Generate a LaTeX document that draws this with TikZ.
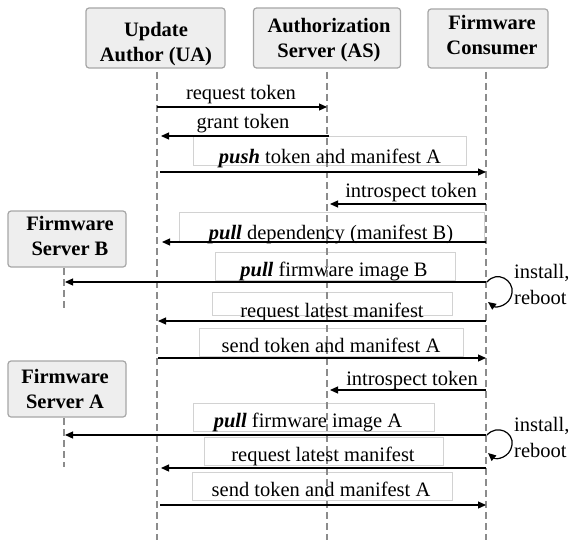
\documentclass[tikz,border=0pt]{standalone}
\usepackage{fontspec}
\setmainfont{Liberation Serif}
\usetikzlibrary{arrows.meta}
\definecolor{hdrfill}{HTML}{EEEEEE}
\definecolor{hdrdraw}{HTML}{A6A6A6}
\definecolor{lifeg}{HTML}{8C8C8C}
\definecolor{boxg}{HTML}{D2D2D2}
\begin{document}
\begin{tikzpicture}[x=1pt,y=-1pt,
  hdr/.style={draw=hdrdraw, fill=hdrfill, line width=1.2pt, rounded corners=3pt, inner sep=0pt},
  htxt/.style={font=\bfseries\fontsize{20.5}{25}\selectfont, align=center, inner sep=0pt, anchor=north},
  life/.style={draw=lifeg, line width=1.6pt, dash pattern=on 7pt off 4pt},
  msg/.style={draw=black, line width=1.2pt, -{Triangle[length=8pt,width=7pt]}},
  mtxt/.style={font=\fontsize{20.5}{26}\selectfont, inner sep=0pt, anchor=base},
  side/.style={font=\fontsize{20.5}{26}\selectfont, inner sep=0pt, anchor=north west, align=left},
  lbox/.style={draw=boxg, line width=0.8pt, inner sep=0pt},
]
\useasboundingbox (0,0) rectangle (569,540);

% header boxes
\node[hdr, minimum width=139pt, minimum height=60pt] (ua) at (155.5,38) {};
\node[hdr, minimum width=147pt, minimum height=60pt] (as) at (327,38) {};
\node[hdr, minimum width=120pt, minimum height=59pt] (fc) at (488,38.5) {};
\node[hdr, minimum width=118pt, minimum height=56pt] (fsb) at (67,239) {};
\node[hdr, minimum width=118pt, minimum height=56pt] (fsa) at (67,389) {};
\node[htxt] (uat) at (156,22) {Update\\Author (UA)};
\node[htxt] (ast) at (329,18) {Authorization\\Server (AS)};
\node[htxt] (fct) at (492,15) {Firmware\\Consumer};
\node[htxt] (fsbt) at (70,216) {Firmware\\Server B};
\node[htxt] (fsat) at (65,369) {Firmware\\Server A};

% label boxes
\node[lbox, minimum width=273pt, minimum height=29pt] (b3) at (329.5,150.5) {};
\node[lbox, minimum width=305pt, minimum height=30pt] (b5) at (331.5,227) {};
\node[lbox, minimum width=240pt, minimum height=28pt] (b6) at (335,266) {};
\node[lbox, minimum width=240pt, minimum height=23pt] (b7) at (332,303.5) {};
\node[lbox, minimum width=264pt, minimum height=28pt] (b8) at (331,342) {};
\node[lbox, minimum width=241pt, minimum height=28pt] (b10) at (313.5,417) {};
\node[lbox, minimum width=239pt, minimum height=28pt] (b11) at (323.5,451) {};
\node[lbox, minimum width=260pt, minimum height=28pt] (b12) at (322,486) {};

% lifelines
\coordinate (uaT) at (157,72);  \coordinate (uaB) at (157,540);
\coordinate (asT) at (327,72);  \coordinate (asB) at (327,540);
\coordinate (fcT) at (486,72);  \coordinate (fcB) at (486,540);
\coordinate (fsbT) at (64,268); \coordinate (fsbB) at (64,310);
\coordinate (fsaT) at (64,418); \coordinate (fsaB) at (64,467);
\draw[life] (uaT) -- (uaB);
\draw[life] (asT) -- (asB);
\draw[life] (fcT) -- (fcB);
\draw[life] (fsbT) -- (fsbB);
\draw[life] (fsaT) -- (fsaB);

% messages
\coordinate (m1a) at (157,107);  \coordinate (m1b) at (327,107);
\coordinate (m2a) at (329,136);  \coordinate (m2b) at (161,136);
\coordinate (m3a) at (160,172);  \coordinate (m3b) at (486,172);
\coordinate (m4a) at (486,204);  \coordinate (m4b) at (330,204);
\coordinate (m5a) at (486,242);  \coordinate (m5b) at (162,242);
\coordinate (m6a) at (486,282);  \coordinate (m6b) at (65,282);
\coordinate (m7a) at (486,321);  \coordinate (m7b) at (158,321);
\coordinate (m8a) at (158,358);  \coordinate (m8b) at (486,358);
\coordinate (m9a) at (486,390);  \coordinate (m9b) at (330,390);
\coordinate (m10a) at (486,435); \coordinate (m10b) at (65,435);
\coordinate (m11a) at (486,468); \coordinate (m11b) at (161,468);
\coordinate (m12a) at (160,505); \coordinate (m12b) at (486,505);
\draw[msg] (m1a) -- (m1b);
\draw[msg] (m2a) -- (m2b);
\draw[msg] (m3a) -- (m3b);
\draw[msg] (m4a) -- (m4b);
\draw[msg] (m5a) -- (m5b);
\draw[msg] (m6a) -- (m6b);
\draw[msg] (m7a) -- (m7b);
\draw[msg] (m8a) -- (m8b);
\draw[msg] (m9a) -- (m9b);
\draw[msg] (m10a) -- (m10b);
\draw[msg] (m11a) -- (m11b);
\draw[msg] (m12a) -- (m12b);

% self loops
\coordinate (lpB1) at (487,282); \coordinate (lpB2) at (488,302);
\coordinate (lpA1) at (487,435); \coordinate (lpA2) at (488,453);
\draw[msg] (lpB1) .. controls (497,270) and (514,280) .. (512,293) .. controls (510,306) and (496,308) .. (lpB2);
\draw[msg] (lpA1) .. controls (497,424) and (514,432) .. (512,445) .. controls (510,458) and (496,460) .. (lpA2);

% message texts
\node[mtxt] (t1) at (241,100) {request token};
\node[mtxt] (t2) at (243,129) {grant token};
\node[mtxt] (t3) at (330,163) {\textbf{\textit{push}} token and manifest A};
\node[mtxt] (t4) at (411,197) {introspect token};
\node[mtxt] (t5) at (331,239) {\textbf{\textit{pull}} dependency (manifest B)};
\node[mtxt] (t6) at (334,276) {\textbf{\textit{pull}} firmware image B};
\node[mtxt] (t7) at (332,317) {request latest manifest};
\node[mtxt] (t8) at (331,352) {send token and manifest A};
\node[mtxt] (t9) at (412,385) {introspect token};
\node[mtxt] (t10) at (308,427) {\textbf{\textit{pull}} firmware image A};
\node[mtxt] (t11) at (323,461) {request latest manifest};
\node[mtxt] (t12) at (321,496) {send token and manifest A};
\node[side] (ir1) at (514,264) {install,\\reboot};
\node[side] (ir2) at (514,417) {install,\\reboot};
\end{tikzpicture}
\end{document}
